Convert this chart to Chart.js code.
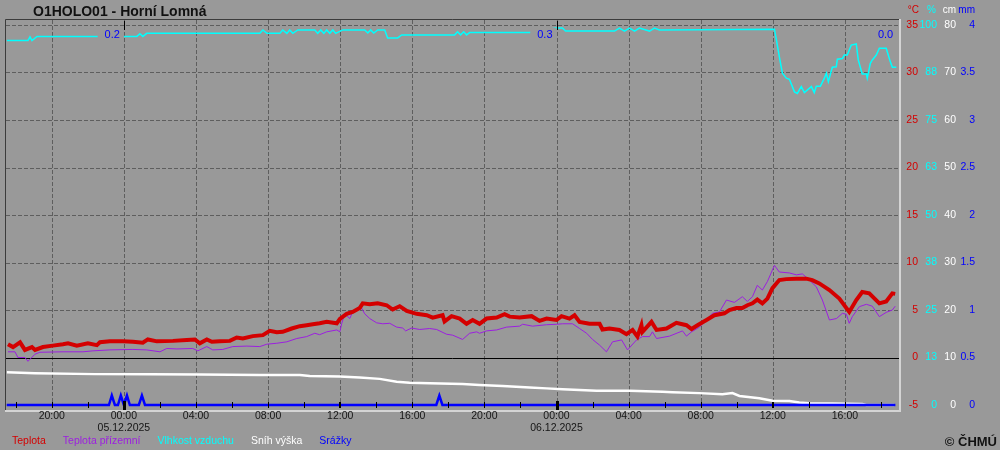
<!DOCTYPE html>
<html lang="cs">
<head>
<meta charset="UTF-8">
<title>O1HOLO01 - Horní Lomná</title>
<script src="https://cdn.jsdelivr.net/npm/chart.js@4.4.1/dist/chart.umd.min.js"></script>
<style>
  html, body { margin: 0; padding: 0; background: #999999; }
  #wrap { position: relative; width: 1000px; height: 450px; font-family: 'Liberation Sans', Arial, sans-serif; }
  canvas { position: absolute; left: 0; top: 0; }
  .title { position: absolute; left: 33px; top: 3px; font-weight: bold; font-size: 14px; line-height: 16px; color: #111; }
  .legend { position: absolute; left: 12px; top: 434px; display: flex; column-gap: 17px; font-size: 10.5px; line-height: 13px; }
  .copy { position: absolute; right: 3px; top: 434px; font-weight: bold; font-size: 13px; line-height: 16px; color: #111; }
</style>
</head>
<body>
<div id="wrap">
  <canvas id="chart" width="1000" height="450"></canvas>
  <div class="title">O1HOLO01 - Horní Lomná</div>
  <div class="legend" id="legend"></div>
  <div class="copy">© ČHMÚ</div>
</div>
<script>
// cas = hodiny od 05.12.2025 00:00
const tempHours = [-6.43, -6.15, -5.76, -5.49, -5.10, -4.93, -4.49, -3.94, -3.38, -3.10, -2.61, -2.00, -1.50, -1.33, -0.78, -0.06,
  0.50, 1.05, 1.33, 1.83, 2.72, 3.49, 3.94, 4.21, 4.60, 4.88, 5.32, 5.88, 6.26, 6.60, 7.15, 7.71, 8.09, 8.48, 8.81, 9.31,
  9.76, 10.14, 10.48, 10.86, 11.25, 11.81, 11.98, 12.36, 12.69, 13.08, 13.25, 13.64, 14.08, 14.58, 14.91, 15.30, 15.69,
  16.24, 16.80, 17.13, 17.68, 17.79, 18.18, 18.63, 19.01, 19.35, 19.73, 20.12, 20.68, 21.12, 21.40, 21.95, 22.62, 23.06,
  23.45, 24.00, 24.28, 24.72, 25.00, 25.28, 25.83, 26.39, 26.55, 26.94, 27.49, 27.88, 28.22, 28.49, 28.71, 28.77, 29.27,
  29.55, 30.10, 30.65, 31.21, 31.49, 31.82, 32.32, 32.76, 33.31, 33.59, 33.98, 34.31, 34.59, 34.87, 35.14, 35.42, 35.70,
  35.98, 36.36, 36.75, 37.31, 37.86, 38.19, 38.58, 39.14, 39.69, 40.24, 40.63, 40.96, 41.35, 41.91, 42.29, 42.63, 42.79];
const tempValues = [1.4, 1.1, 1.6, 0.8, 1.1, 0.8, 1.1, 1.25, 1.4, 1.5, 1.25, 1.5, 1.3, 1.6, 1.7, 1.7,
  1.65, 1.55, 1.9, 1.7, 1.75, 1.85, 1.9, 1.5, 1.9, 1.65, 1.7, 1.75, 2.1, 2.0, 2.25, 2.35, 2.8, 2.65, 2.7, 3.05,
  3.3, 3.4, 3.5, 3.6, 3.75, 3.6, 4.05, 4.6, 4.8, 5.2, 5.7, 5.6, 5.7, 5.5, 5.05, 5.4, 4.9,
  4.6, 4.45, 4.2, 4.45, 3.8, 4.35, 4.1, 3.55, 3.95, 3.55, 4.1, 4.2, 4.55, 4.3, 4.2, 4.35, 3.85,
  4.1, 3.95, 4.35, 4.1, 4.45, 3.75, 3.55, 3.55, 2.95, 3.05, 2.9, 2.45, 2.9, 2.2, 3.4, 2.7, 3.75,
  2.9, 3.05, 3.65, 3.4, 3.0, 3.4, 3.95, 4.45, 4.65, 5.0, 5.2, 5.2, 5.5, 5.7, 6.1, 5.7, 6.2,
  7.3, 8.15, 8.25, 8.3, 8.3, 8.15, 7.8, 7.1, 6.2, 4.8, 6.05, 6.9, 6.75, 5.7, 5.9, 6.75, 6.7];

const groundHours = [-6.43, -6.04, -5.88, -5.49, -5.32, -4.93, -4.66, -3.38, -2.27, -1.72, -0.78, 0.50, 1.27, 2.00, 2.38,
  2.94, 3.82, 4.10, 4.60, 4.93, 5.49, 6.04, 6.82, 7.54, 7.93, 8.48, 9.04, 9.59, 10.14, 10.59, 10.86, 11.25, 11.81, 11.98,
  12.08, 12.25, 12.53, 12.69, 13.19, 13.36, 13.64, 14.02, 14.36, 14.75, 15.13, 15.47, 15.63, 15.96, 16.41, 16.96, 17.35,
  17.90, 18.24, 18.79, 19.18, 19.57, 19.73, 20.12, 20.68, 21.23, 21.95, 22.12, 22.67, 23.45, 24.00, 24.34, 24.89, 25.28,
  25.67, 26.00, 26.39, 26.77, 27.11, 27.61, 27.94, 28.44, 28.77, 29.16, 29.32, 29.55, 30.27, 30.99, 31.21, 31.49, 31.93,
  32.65, 33.04, 33.43, 33.87, 34.31, 34.59, 34.87, 35.14, 35.42, 35.70, 36.09, 36.36, 36.92, 37.31, 37.64, 38.03, 38.41,
  38.75, 39.14, 39.53, 39.86, 40.08, 40.24, 40.41, 40.80, 41.19, 41.52, 41.91, 42.29, 42.63, 42.79];
const groundValues = [0.6, 0.6, 0.0, 0.0, -0.4, 0.35, 0.55, 0.6, 0.6, 0.7, 0.8, 0.85, 0.8, 0.6, 0.95,
  0.9, 0.95, 0.7, 1.15, 0.8, 0.85, 1.15, 1.2, 1.15, 1.4, 1.5, 1.65, 2.0, 2.2, 2.55, 2.4, 2.7, 2.9, 2.7,
  3.55, 4.6, 4.1, 4.8, 5.2, 4.6, 4.1, 3.65, 3.55, 3.6, 3.2, 3.1, 2.8, 3.1, 2.95, 3.05, 2.95,
  2.45, 2.35, 1.9, 2.55, 2.7, 2.55, 2.8, 2.9, 3.2, 3.3, 3.5, 3.3, 3.45, 3.5, 3.55, 3.55, 3.05,
  2.55, 1.9, 1.3, 0.6, 1.65, 1.85, 0.8, 1.85, 2.2, 2.2, 2.7, 2.0, 2.25, 2.8, 2.25, 2.7, 3.2,
  4.65, 4.8, 6.05, 5.8, 6.4, 5.9, 6.4, 7.6, 7.1, 8.0, 9.7, 9.0, 8.9, 8.7, 8.8, 8.15, 7.45,
  6.05, 3.95, 4.1, 4.65, 4.55, 3.6, 4.3, 5.35, 5.6, 5.4, 4.3, 4.75, 5.0, 5.4];

const humHours = [-6.49, -5.32, -5.21, -5.10, -4.82, -1.44, 0.06, 0.72, 0.89, 1.05, 1.27, 7.54, 7.71, 7.93, 8.65, 8.81,
  9.04, 9.20, 9.37, 9.65, 10.59, 10.75, 10.92, 11.09, 11.25, 11.42, 11.59, 11.75, 12.14, 13.36, 13.53, 13.69, 13.86,
  14.08, 14.47, 14.63, 15.19, 15.41, 18.35, 18.51, 18.68, 18.85, 19.01, 19.18, 22.51, 24.00, 24.33, 24.50, 27.22, 27.49,
  27.77, 28.05, 28.33, 28.60, 29.16, 29.43, 29.71, 36.09, 36.20, 36.36, 36.53, 36.75, 36.92, 37.20, 37.36, 37.58, 37.75,
  38.14, 38.30, 38.41, 38.64, 38.86, 38.97, 39.08, 39.30, 39.52, 39.58, 39.86, 39.97, 40.13, 40.35, 40.63, 40.74, 40.96,
  41.19, 41.24, 41.41, 41.52, 41.74, 41.91, 42.29, 42.52, 42.63, 42.85];
const humValues = [95.9, 95.9, 96.9, 95.9, 97.0, 97.0, 97.0, 97.0, 97.7, 97.0, 97.8, 97.8, 98.7, 97.8, 97.8, 98.7,
  97.8, 98.7, 97.8, 98.7, 98.7, 97.8, 98.7, 97.8, 98.7, 97.8, 98.7, 97.8, 98.7, 98.7, 97.9, 98.7, 97.9,
  98.7, 98.7, 96.6, 96.6, 97.4, 97.4, 98.2, 97.4, 98.2, 97.4, 98.0, 98.0, 99.2, 99.2, 98.4, 98.4, 99.2,
  98.4, 99.2, 98.4, 99.2, 98.4, 99.2, 98.7, 98.9, 96.1, 91.7, 87.3, 86.0, 85.7, 82.4, 82.0, 83.8, 82.2,
  83.8, 82.2, 83.9, 83.9, 86.0, 87.3, 85.1, 88.9, 89.0, 91.0, 91.2, 92.1, 92.1, 94.7, 95.0, 90.8, 87.1,
  87.1, 86.0, 89.9, 90.8, 92.1, 93.9, 93.9, 90.3, 88.9, 88.9];

const snowHours = [-6.49, -4.93, -1.61, 1.44, 4.21, 7.54, 9.76, 10.31, 11.97, 13.08, 14.19, 15.13, 15.85, 16.96, 18.79,
  19.73, 21.01, 22.51, 23.45, 24.33, 26.22, 28.05, 29.88, 30.43, 31.93, 33.20, 33.76, 34.15, 35.25, 35.98, 36.92, 37.47,
  38.03, 39.30, 40.96, 41.19, 42.74];
const snowValues = [6.9, 6.7, 6.5, 6.5, 6.4, 6.3, 6.3, 6.1, 6.0, 5.8, 5.5, 4.9, 4.7, 4.6, 4.4,
  4.2, 4.0, 3.7, 3.5, 3.3, 3.0, 3.0, 2.8, 2.7, 2.5, 2.25, 2.5, 1.9, 1.4, 0.9, 0.85, 0.55,
  0.35, 0.3, 0.2, 0.0, 0.0];

const rainHours = [-6.5, -0.83, -0.67, -0.5, -0.33, -0.17, 0, 0.17, 0.33, 0.83, 1.0, 1.17, 17.33, 17.5, 17.67, 42.8];
const rainValues = [0, 0, 0.1, 0, 0, 0.1, 0, 0.1, 0, 0, 0.1, 0, 0, 0.1, 0, 0];

const seriesNames = ['Teplota', 'Teplota přízemní', 'Vlhkost vzduchu', 'Sníh výška', 'Srážky'];
const seriesColors = ['#d40000', '#9c1fe0', '#00ffff', '#ffffff', '#0000ff'];

const xLabelHours = [-4, 0, 4, 8, 12, 16, 20, 24, 28, 32, 36, 40];
const xLabels = ['20:00', '00:00', '04:00', '08:00', '12:00', '16:00', '20:00', '00:00', '04:00', '08:00', '12:00', '16:00'];
const dateHours = [0, 24];
const dateLabels = ['05.12.2025', '06.12.2025'];
const dayTotalEnds = [0, 24, 42.9];
const dayTotals = ['0.2', '0.3', '0.0'];

const tempTicks = [-5, 0, 5, 10, 15, 20, 25, 30, 35];
const humTicks = [0, 12.5, 25, 37.5, 50, 62.5, 75, 87.5, 100];
const snowTicks = [0, 10, 20, 30, 40, 50, 60, 70, 80];
const rainTicks = [0, 0.5, 1, 1.5, 2, 2.5, 3, 3.5, 4];
const axisUnits = ['°C', '%', 'cm', 'mm'];
const axisColors = ['#d40000', '#00ffff', '#ffffff', '#0000ff'];

// 5 px navic nad a pod krajnimi popisky
function ext(lo, hi) {
  const d = (hi - lo) * 5 / 380;
  return { min: lo - d, max: hi + d };
}

function pts(xs, ys) {
  return xs.map((h, i) => ({ x: h, y: ys[i] }));
}

document.getElementById('legend').innerHTML = seriesNames
  .map((n, i) => '<span style="color:' + seriesColors[i] + '">' + n + '</span>').join('');

const font = "10.5px 'Liberation Sans', Arial, sans-serif";

function line(ctx, x1, y1, x2, y2) {
  ctx.beginPath();
  ctx.moveTo(x1, y1);
  ctx.lineTo(x2, y2);
  ctx.stroke();
}

const chmuPlugin = {
  id: 'chmu',
  beforeDraw(chart) {
    const ctx = chart.ctx;
    ctx.save();
    ctx.fillStyle = '#999999';
    ctx.fillRect(0, 0, chart.width, chart.height);
    ctx.restore();
  },
  beforeDatasetsDraw(chart) {
    const { ctx, chartArea: a, scales } = chart;
    const x = scales.x, y = scales.y;
    ctx.save();
    ctx.lineWidth = 1;
    ctx.strokeStyle = '#5e5e5e';
    ctx.setLineDash([4, 2]);
    tempTicks.forEach(v => {
      if (v <= -5 || v === 0) return;
      const py = Math.round(y.getPixelForValue(v)) + 0.5;
      line(ctx, a.left, py, a.right, py);
    });
    const yb = y.getPixelForValue(-5);
    xLabelHours.forEach(h => {
      const px = Math.round(x.getPixelForValue(h)) + 0.5;
      line(ctx, px, a.top, px, yb);
    });
    ctx.setLineDash([]);
    ctx.strokeStyle = '#000';
    const y0 = Math.round(y.getPixelForValue(0)) + 0.5;
    line(ctx, a.left, y0, a.right, y0);
    ctx.restore();
  },
  afterDatasetsDraw(chart) {
    const { ctx, chartArea: a, scales } = chart;
    const x = scales.x, y = scales.y;
    const yb = Math.round(y.getPixelForValue(-5));
    ctx.save();

    // denni uhrny
    ctx.font = "11px 'Liberation Sans', Arial, sans-serif";
    ctx.textBaseline = 'middle';
    ctx.textAlign = 'right';
    dayTotals.forEach((t, i) => {
      const r = x.getPixelForValue(dayTotalEnds[i]) - 4;
      const w = ctx.measureText(t).width;
      ctx.fillStyle = '#999999';
      ctx.fillRect(r - w - 7, 28, w + 11, 15);
      ctx.fillStyle = '#0000ff';
      ctx.fillText(t, r, 35);
    });

    // ticky na casove ose
    ctx.fillStyle = '#000';
    for (let h = -6; h <= 42; h += 2) {
      const px = Math.round(x.getPixelForValue(h));
      const mod = ((h % 24) + 24) % 24;
      if (mod === 0) {
        ctx.fillRect(px - 1, yb - 4, 3, 10);
        ctx.fillRect(px, a.top + 1, 1, 9);
      } else if (mod === 12) {
        ctx.fillRect(px - 1, yb - 3, 2, 6);
      } else {
        ctx.fillRect(px, yb - 3, 1, 6);
      }
    }

    // ramecek
    ctx.lineWidth = 1;
    ctx.strokeStyle = '#3c3c3c';
    line(ctx, a.left - 0.5, a.top - 0.5, a.right, a.top - 0.5);
    line(ctx, a.left - 0.5, a.top - 0.5, a.left - 0.5, a.bottom);
    ctx.lineWidth = 2;
    ctx.strokeStyle = '#d4d4d4';
    line(ctx, a.right + 1, a.top - 1, a.right + 1, a.bottom + 2);
    line(ctx, a.left - 1, a.bottom + 1, a.right + 2, a.bottom + 1);

    // popisky casu
    ctx.font = font;
    ctx.textAlign = 'center';
    ctx.fillStyle = '#151515';
    xLabelHours.forEach((h, i) => {
      ctx.fillText(xLabels[i], x.getPixelForValue(h), 416);
    });
    dateHours.forEach((h, i) => {
      ctx.fillText(dateLabels[i], x.getPixelForValue(h), 428);
    });

    // prave osy
    ctx.textAlign = 'right';
    const cols = [918, 937, 956, 975];
    const sets = [
      [scales.y, tempTicks, v => String(v)],
      [scales.yHum, humTicks, v => String(Math.round(v))],
      [scales.ySnow, snowTicks, v => String(v)],
      [scales.yRain, rainTicks, v => String(v)]
    ];
    sets.forEach((s, k) => {
      ctx.fillStyle = axisColors[k];
      s[1].forEach(v => ctx.fillText(s[2](v), cols[k], s[0].getPixelForValue(v)));
    });
    ctx.font = "10px 'Liberation Sans', Arial, sans-serif";
    const headX = [919, 936, 956, 975];
    axisUnits.forEach((u, k) => {
      ctx.fillStyle = axisColors[k];
      ctx.fillText(u, headX[k], 10);
    });
    ctx.restore();
  }
};

const tr = ext(-5, 35), hr = ext(0, 100), sr = ext(0, 80), rr = ext(0, 4);

new Chart(document.getElementById('chart'), {
  type: 'line',
  data: {
    datasets: [
      { label: seriesNames[4], data: pts(rainHours, rainValues), yAxisID: 'yRain', borderColor: seriesColors[4], borderWidth: 2.5, order: 0 },
      { label: seriesNames[0], data: pts(tempHours, tempValues), yAxisID: 'y', borderColor: seriesColors[0], borderWidth: 4, order: 1 },
      { label: seriesNames[1], data: pts(groundHours, groundValues), yAxisID: 'y', borderColor: seriesColors[1], borderWidth: 1, order: 2 },
      { label: seriesNames[3], data: pts(snowHours, snowValues), yAxisID: 'ySnow', borderColor: seriesColors[3], borderWidth: 2.5, order: 3 },
      { label: seriesNames[2], data: pts(humHours, humValues), yAxisID: 'yHum', borderColor: seriesColors[2], borderWidth: 1.5, order: 4 }
    ]
  },
  options: {
    responsive: false,
    animation: false,
    devicePixelRatio: 1,
    layout: { padding: { left: 6, top: 20, right: 101, bottom: 40 } },
    elements: { point: { radius: 0 }, line: { tension: 0, fill: false } },
    plugins: { legend: { display: false }, tooltip: { enabled: false }, title: { display: false } },
    scales: {
      x: { type: 'linear', min: -6.54, max: 43.0, display: false },
      y: { type: 'linear', min: tr.min, max: tr.max, display: false },
      yHum: { type: 'linear', min: hr.min, max: hr.max, display: false },
      ySnow: { type: 'linear', min: sr.min, max: sr.max, display: false },
      yRain: { type: 'linear', min: rr.min, max: rr.max, display: false }
    }
  },
  plugins: [chmuPlugin]
});
</script>
</body>
</html>
